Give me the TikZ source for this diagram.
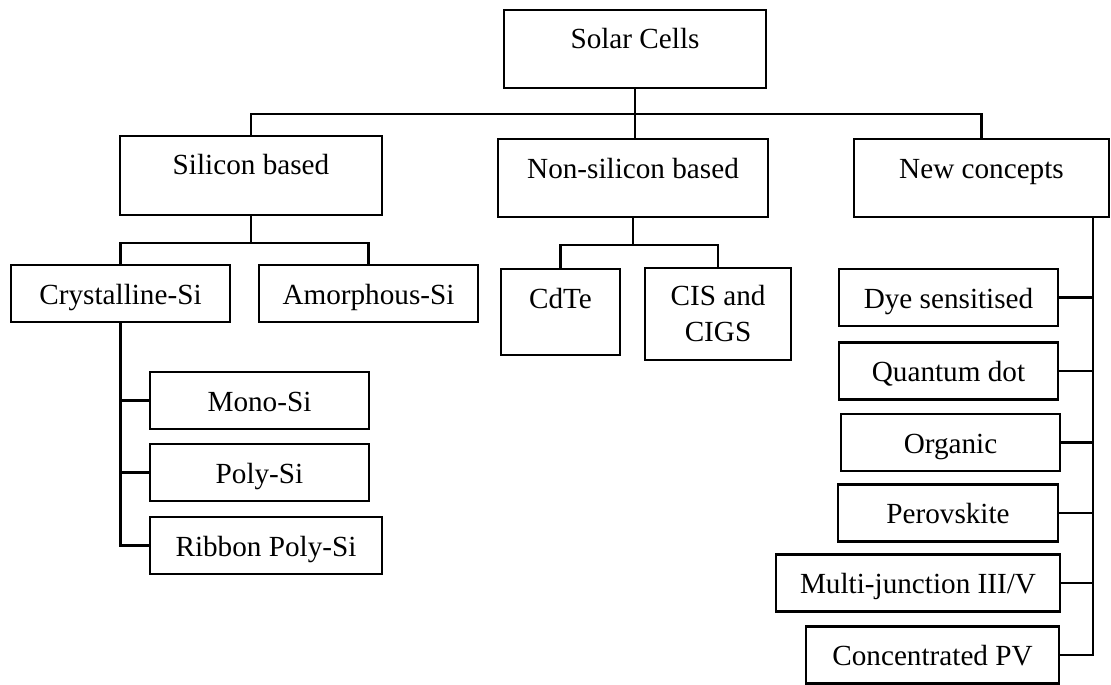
\documentclass[tikz,border=0pt]{standalone}
\usepackage{fontspec}
\setmainfont{Liberation Serif}
\usepackage{tikz}

\begin{document}
\begin{tikzpicture}[x=0.5pt, y=-0.5pt, line width=1.1pt,
    font=\fontsize{14.6}{18}\selectfont,
    box/.style={draw, inner sep=0pt, text height=19.5pt, text depth=9pt, minimum width=109.5pt},
    tallbox/.style={box, text depth=19.5pt}]
    \useasboundingbox (0,0) rectangle (1111,684);
    % top level
    \node[tallbox, minimum width=131pt] (solar) at (635,49) {Solar Cells};
    \node[tallbox, minimum width=131pt, text depth=20pt] (sil) at (251,175.5) {Silicon based};
    \node[tallbox, minimum width=135pt] (nonsil) at (633,178) {Non-silicon based};
    \node[tallbox, minimum width=127.5pt] (newc) at (981.5,178) {New concepts};
    % silicon
    \node[box] (cryst) at (120.5,293.5) {Crystalline-Si};
    \node[box] (amor) at (368.5,293.5) {Amorphous-Si};
    \node[box] (mono) at (259.5,400.5) {Mono-Si};
    \node[box] (poly) at (259.5,472.5) {Poly-Si};
    \node[box, minimum width=116pt] (ribbon) at (266,545.5) {Ribbon Poly-Si};
    % non-silicon
    \node[box, minimum width=59.5pt, text depth=23.5pt] (cdte) at (560.5,312) {CdTe};
    \node[draw, inner sep=0pt, minimum width=73pt, minimum height=46pt, align=center] (cis) at (718,314) {CIS and\\CIGS};
    % new concepts
    \node[box] (dye) at (948.5,297.5) {Dye sensitised};
    \node[box] (quant) at (948.5,371) {Quantum dot};
    \node[box] (org) at (950.5,442.5) {Organic};
    \node[box, minimum width=110pt] (perov) at (948,513) {Perovskite};
    \node[box, minimum width=142pt] (multi) at (918,583) {Multi-junction III/V};
    \node[box, minimum width=126.5pt] (conc) at (932.5,655) {Concentrated PV};

    \draw (solar.south) -- ++(0,25) coordinate (bus);
    \draw (sil.north) |- (bus) -| (newc.north);
    \draw (bus) -- (bus |- nonsil.north);

    \draw (sil.south) -- ++(0,27) coordinate (silbus);
    \draw (cryst.north) |- (silbus) -| (amor.north);
    \draw (cryst.south) |- (ribbon.west);
    \foreach \n in {mono,poly}
        \draw (\n.west) -- (\n.west -| cryst.south);

    \draw (nonsil.south) -- ++(0,27) coordinate (nsbus);
    \draw (cdte.north) |- (nsbus) -| (cis.north);

    \coordinate (ntrunk) at ([xshift=-8.5pt]newc.south east);
    \draw (ntrunk) |- (conc.east);
    \foreach \n in {dye,quant,org,perov,multi}
        \draw (\n.east) -- (\n.east -| ntrunk);
\end{tikzpicture}
\end{document}
